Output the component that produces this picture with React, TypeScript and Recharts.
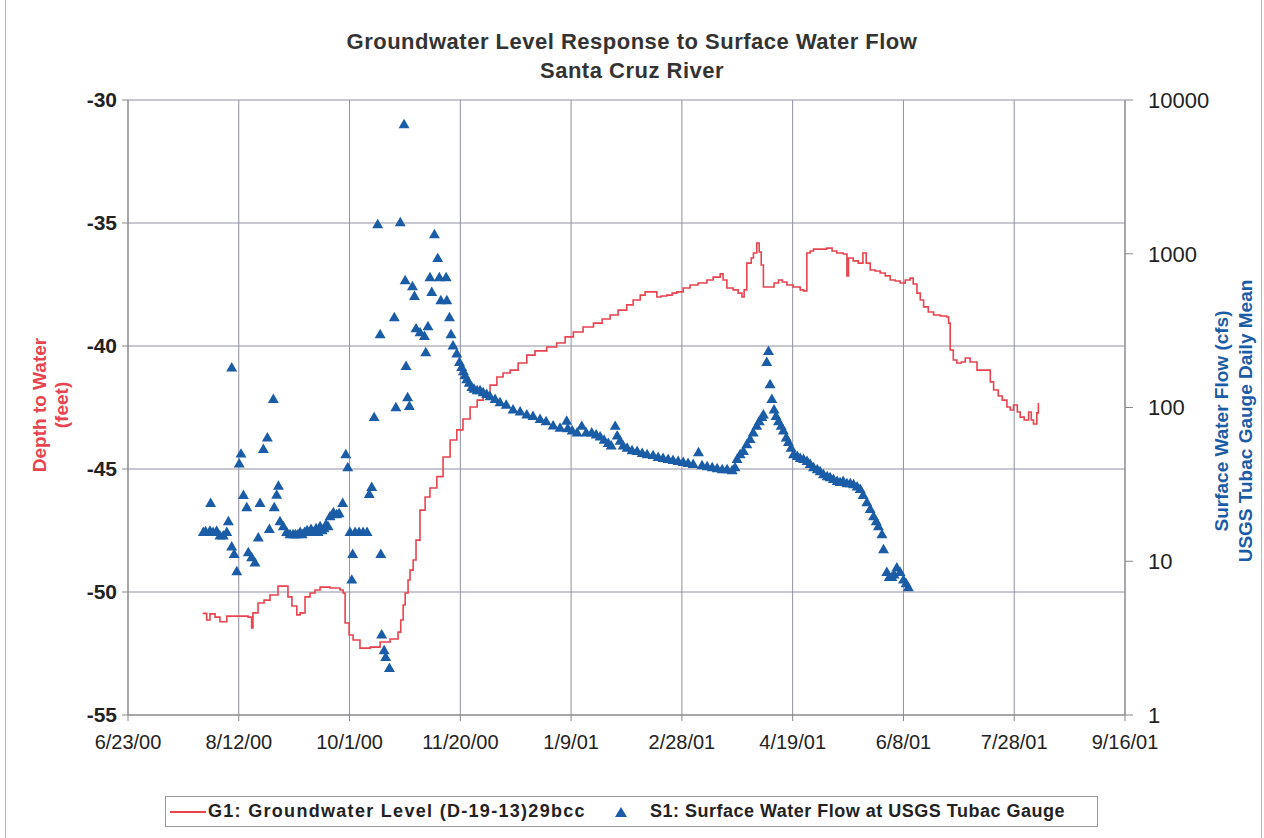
import React from "react";
import {
    ComposedChart,
    Line,
    Scatter,
    XAxis,
    YAxis,
    ZAxis,
    CartesianGrid
} from "recharts";

// days counted from 6/23/00
const gwDays = [
    33.7, 35.5, 37.0, 39.3, 41.5, 44.6, 50.6, 54.2, 55.8, 56.4, 58.7, 61.4, 64.1, 67.7, 70.9, 72.2,
    74.0, 76.2, 77.7, 79.9, 82.2, 84.4, 86.7, 91.2, 95.7, 97.1, 98.0, 99.8, 101.6, 104.7, 107.0, 109.3,
    113.8, 118.3, 121.9, 123.1, 124.2, 125.1, 126.4, 127.3, 128.7, 130.0, 131.8, 134.1, 136.3, 139.4,
    142.2, 145.4, 148.4, 151.2, 154.4, 157.6, 160.3, 163.4, 166.5, 169.3, 172.5, 176.1, 180.0, 183.7,
    189.0, 193.5, 197.3, 201.0, 205.4, 210.1, 214.0, 217.6, 221.2, 225.1, 228.0, 231.2, 233.4, 235.7,
    238.7, 240.6, 243.2, 245.6, 247.7, 250.6, 253.7, 257.3, 261.3, 264.1, 267.3, 268.6, 270.3, 273.1,
    275.4, 277.1, 278.1, 279.3, 281.3, 282.3, 283.8, 284.9, 285.8, 286.8, 289.8, 291.6, 293.6, 295.3,
    297.4, 300.2, 303.4, 304.9, 306.4, 307.9, 309.4, 312.4, 315.4, 317.8, 319.9, 322.8, 324.5, 325.2,
    327.3, 329.6, 331.7, 333.2, 335.0, 337.2, 339.5, 341.8, 344.0, 346.3, 348.5, 350.8, 353.0, 354.4,
    356.1, 357.6, 359.1, 361.2, 363.6, 366.6, 369.6, 370.4, 371.1, 372.5, 374.1, 376.1, 377.9, 380.1,
    383.2, 385.6, 387.7, 389.2, 390.7, 392.8, 394.6, 396.7, 398.2, 399.7, 401.4, 402.7, 404.5, 406.5,
    407.7, 408.7, 410.2, 410.9
];
const gwDepth = [
    -50.87, -51.14, -50.89, -51.02, -51.21, -50.98, -50.98, -51.02, -51.46, -50.85, -50.45, -50.33,
    -50.12, -49.76, -49.76, -50.2, -50.57, -50.93, -50.85, -50.2, -50.04, -49.92, -49.8, -49.84, -49.92,
    -50.04, -51.26, -51.75, -51.95, -52.28, -52.28, -52.24, -52.03, -51.91, -51.63, -51.14, -50.53,
    -50.04, -49.51, -49.11, -48.7, -47.89, -46.67, -46.14, -45.77, -45.31, -44.51, -43.82, -43.41,
    -42.97, -42.48, -42.2, -41.91, -41.59, -41.26, -41.1, -40.98, -40.69, -40.37, -40.2, -40.04, -39.88,
    -39.63, -39.43, -39.23, -39.07, -38.9, -38.74, -38.54, -38.33, -38.13, -37.93, -37.8, -37.8, -38.01,
    -37.97, -37.93, -37.85, -37.8, -37.64, -37.52, -37.44, -37.32, -37.2, -37.07, -37.32, -37.64, -37.72,
    -37.85, -38.01, -37.72, -36.63, -36.42, -36.22, -35.81, -36.18, -36.71, -37.6, -37.6, -37.44, -37.32,
    -37.4, -37.52, -37.6, -37.72, -37.76, -36.22, -36.14, -36.06, -36.06, -36.02, -36.14, -36.22, -36.26,
    -37.15, -36.42, -36.54, -36.63, -36.22, -36.63, -36.91, -36.95, -37.03, -37.15, -37.32, -37.36,
    -37.44, -37.32, -37.24, -37.48, -37.85, -38.13, -38.41, -38.62, -38.74, -38.78, -38.82, -39.07,
    -40.16, -40.57, -40.69, -40.65, -40.49, -40.65, -40.98, -40.98, -40.98, -41.46, -41.79, -42.03,
    -42.2, -42.48, -42.6, -42.4, -42.68, -42.89, -43.01, -42.68, -43.01, -43.17, -42.72, -42.32
];

const flowDays = [
    34.0, 35.0, 37.0, 37.3, 38.4, 40.0, 41.5, 43.0, 44.6, 45.3, 46.8, 46.8, 47.9, 49.1, 50.2, 51.0,
    52.1, 53.6, 54.3, 55.8, 57.3, 58.8, 59.6, 61.1, 62.9, 63.8, 65.6, 66.0, 67.1, 67.9, 68.6, 70.1,
    71.6, 73.1, 74.5, 75.6, 76.7, 77.7, 78.6, 79.7, 80.8, 81.7, 82.6, 83.7, 84.9, 85.8, 86.7, 87.6,
    88.5, 89.4, 90.3, 91.2, 92.7, 94.2, 95.3, 96.9, 98.3, 99.2, 100.2, 101.0, 101.4, 102.5, 104.3,
    106.1, 107.9, 108.9, 110.0, 111.1, 112.7, 113.8, 114.1, 114.5, 115.6, 116.3, 118.0, 120.2, 120.9,
    122.9, 124.6, 125.1, 125.5, 126.2, 127.0, 128.4, 129.3, 130.0, 131.8, 133.8, 134.4, 135.4, 136.3,
    137.1, 138.3, 139.8, 140.5, 141.2, 143.6, 143.9, 145.1, 145.8, 146.7, 148.4, 149.6, 150.6, 151.4,
    152.1, 152.9, 154.0, 155.2, 156.2, 157.6, 158.9, 160.3, 161.9, 163.4, 165.7, 167.9, 170.7, 173.8,
    177.0, 180.0, 182.8, 186.0, 188.7, 191.9, 195.0, 198.0, 198.5, 200.5, 202.7, 204.8, 206.8, 209.3,
    211.3, 213.1, 214.9, 216.8, 218.1, 219.9, 220.8, 222.1, 223.5, 225.3, 227.5, 229.8, 232.1, 234.3,
    237.0, 239.3, 241.5, 243.8, 246.0, 248.3, 250.6, 252.8, 255.1, 257.5, 259.1, 261.4, 263.7, 265.9,
    268.2, 270.4, 272.7, 274.0, 274.9, 276.3, 277.8, 279.3, 280.8, 282.2, 283.8, 284.9, 286.1, 286.8,
    288.3, 289.1, 289.8, 290.6, 291.6, 292.5, 293.6, 294.8, 295.8, 297.1, 298.1, 299.3, 300.4, 302.1,
    303.4, 304.9, 306.5, 307.9, 309.4, 311.1, 312.4, 313.9, 315.6, 316.9, 318.4, 320.1, 321.4, 322.8,
    324.5, 326.0, 327.5, 329.1, 330.5, 331.8, 333.5, 335.0, 336.5, 337.7, 338.7, 340.3, 341.0, 342.5,
    343.6, 344.8, 345.8, 347.0, 348.5, 350.0, 351.2, 352.2
];
const flowCfs = [
    15.3, 15.5, 15.6, 23.6, 15.3, 15.6, 14.5, 14.5, 15.3, 18.0, 180, 12.3, 11.0, 8.5, 42.7, 49.5,
    26.6, 22.2, 11.3, 10.5, 9.7, 14.1, 23.6, 53, 63, 16.0, 112, 22.2, 26.7, 30.6, 18.0, 16.7,
    15.3, 14.8, 14.8, 14.8, 14.8, 15.3, 14.8, 15.3, 15.7, 15.3, 16.0, 15.3, 16.2, 15.3, 16.7, 15.7,
    16.2, 17.2, 16.7, 19.4, 20.6, 20.0, 20.3, 23.6, 49, 40.4, 15.3, 7.5, 11.0, 15.3, 15.3,
    15.3, 15.3, 27, 30, 85.5, 1538, 296, 11.0, 3.3, 2.6, 2.35, 2.0, 382, 99,
    1585, 6880, 663, 184, 115, 101, 608, 524, 323, 305, 288, 226, 334, 695,
    556, 1324, 925, 695, 493, 695, 493, 382, 296, 250, 222, 195, 181, 170,
    160, 151, 143, 134, 131, 128, 128, 124, 121, 117, 112, 107, 103, 96,
    93, 89, 87, 83, 80.5, 75.5, 73, 81, 72.5, 70, 68, 75, 68, 68,
    66, 64, 61, 58, 56, 75, 65, 60, 56, 54, 52, 51.4, 50, 49,
    48.4, 47, 46.3, 45.6, 45, 44.3, 43.6, 43, 42.3, 50.6, 41.6, 41.0, 40.4, 39.8,
    39.2, 39.2, 38.6, 40.4, 45.6, 49, 51.4, 57, 61.5, 68, 75, 80.5, 85.5, 89,
    195, 230, 140, 112, 96, 87, 80.5, 75, 70, 63, 59, 54, 49, 47.7,
    46.3, 45.6, 44.3, 42.3, 40.4, 39.2, 38, 36.4, 35.3, 34.8, 33.8, 32.8, 32.3, 32.8,
    31.8, 31.8, 31.3, 30.3, 29.1, 26.6, 23.9, 21.6, 19.4, 18, 16.7, 14.8, 11.8, 8.4,
    7.8, 7.8, 8.1, 9.0, 8.4, 7.5, 7.1, 6.7
];

const dayTicks = [0, 50, 100, 150, 200, 250, 300, 350, 400, 450];
const depthTicks = [-55, -50, -45, -40, -35, -30];
const flowTicks = [1, 10, 100, 1000, 10000];

const gwData = gwDays.map((day, i) => ({ day, depth: gwDepth[i] }));
const flowData = flowDays.map((day, i) => ({ day, flow: flowCfs[i] }));

const START = Date.UTC(2000, 5, 23);
function fmtDate(d: number) {
    const dt = new Date(START + d * 86400000);
    const yy = String(dt.getUTCFullYear() % 100).padStart(2, "0");
    return `${dt.getUTCMonth() + 1}/${dt.getUTCDate()}/${yy}`;
}

const RED = "#e8434f";
const BLUE = "#1b5ca6";
const FONT = "'Liberation Sans', Arial, sans-serif";

export default function App() {
    return (
        <div
            style={{
                position: "absolute",
                left: 0,
                top: 0,
                width: 1264,
                height: 838,
                background: "#fff",
                fontFamily: FONT,
                overflow: "hidden"
            }}
        >
            <div style={{ position: "absolute", left: 5, top: 0, width: 1, height: 838, background: "#bbb" }} />
            <div style={{ position: "absolute", left: 1261, top: 0, width: 1, height: 838, background: "#bbb" }} />
            <div
                style={{
                    position: "absolute",
                    left: 0,
                    width: 1264,
                    top: 27,
                    textAlign: "center",
                    fontWeight: "bold",
                    fontSize: 22,
                    letterSpacing: 0.5,
                    lineHeight: "29px",
                    color: "#333"
                }}
            >
                Groundwater Level Response to Surface Water Flow
                <br />
                Santa Cruz River
            </div>

            <ComposedChart
                width={1264}
                height={838}
                margin={{ top: 100, right: 39, bottom: 83, left: 48 }}
                style={{ position: "absolute", left: 0, top: 0 }}
            >
                <CartesianGrid yAxisId="left" stroke="#9090a0" strokeWidth={1} />
                <XAxis
                    type="number"
                    dataKey="day"
                    domain={[0, 450]}
                    ticks={dayTicks}
                    tickFormatter={fmtDate}
                    height={40}
                    tickSize={6}
                    tickMargin={14}
                    stroke="#888"
                    tick={{ fill: "#222", fontSize: 20, fontFamily: FONT }}
                />
                <YAxis
                    yAxisId="left"
                    dataKey="depth"
                    domain={[-55, -30]}
                    ticks={depthTicks}
                    width={80}
                    tickSize={6}
                    tickMargin={5}
                    stroke="#888"
                    tick={{ fill: "#222", fontSize: 21, fontWeight: "bold", fontFamily: FONT }}
                />
                <YAxis
                    yAxisId="right"
                    orientation="right"
                    dataKey="flow"
                    scale="log"
                    domain={[1, 10000]}
                    allowDataOverflow
                    ticks={flowTicks}
                    width={100}
                    tickSize={8}
                    tickMargin={15}
                    stroke="#888"
                    tick={{ fill: "#222", fontSize: 22, fontFamily: FONT }}
                />
                <ZAxis range={[52, 52]} />
                <Line
                    yAxisId="left"
                    data={gwData}
                    dataKey="depth"
                    type="stepAfter"
                    stroke={RED}
                    strokeWidth={1.6}
                    dot={false}
                    isAnimationActive={false}
                />
                <Scatter
                    yAxisId="right"
                    data={flowData}
                    dataKey="flow"
                    shape="triangle"
                    fill={BLUE}
                    isAnimationActive={false}
                />
            </ComposedChart>

            <div
                style={{
                    position: "absolute",
                    left: 51,
                    top: 405,
                    transform: "translate(-50%, -50%) rotate(-90deg)",
                    textAlign: "center",
                    color: RED,
                    fontWeight: "bold",
                    fontSize: 19,
                    lineHeight: "22px",
                    whiteSpace: "nowrap"
                }}
            >
                Depth to Water
                <br />
                (feet)
            </div>
            <div
                style={{
                    position: "absolute",
                    left: 1234,
                    top: 421,
                    transform: "translate(-50%, -50%) rotate(-90deg)",
                    textAlign: "center",
                    color: BLUE,
                    fontWeight: "bold",
                    fontSize: 19,
                    lineHeight: "24px",
                    whiteSpace: "nowrap"
                }}
            >
                Surface Water Flow (cfs)
                <br />
                USGS Tubac Gauge Daily Mean
            </div>

            <div
                style={{
                    position: "absolute",
                    left: 165,
                    top: 796,
                    width: 933,
                    height: 31,
                    boxSizing: "border-box",
                    border: "1px solid #999",
                    display: "flex",
                    alignItems: "center",
                    fontSize: 18,
                    fontWeight: "bold",
                    color: "#222"
                }}
            >
                <svg width={38} height={10} style={{ marginLeft: 4 }}>
                    <line x1={0} y1={5} x2={36} y2={5} stroke={RED} strokeWidth={2} />
                </svg>
                <span style={{ letterSpacing: 1.3 }}>G1: Groundwater Level (D-19-13)29bcc</span>
                <svg width={14} height={12} style={{ marginLeft: 28, marginRight: 22 }}>
                    <polygon points="7,1 13,11 1,11" fill={BLUE} />
                </svg>
                <span style={{ letterSpacing: 0.5 }}>S1: Surface Water Flow at USGS Tubac Gauge</span>
            </div>
        </div>
    );
}
